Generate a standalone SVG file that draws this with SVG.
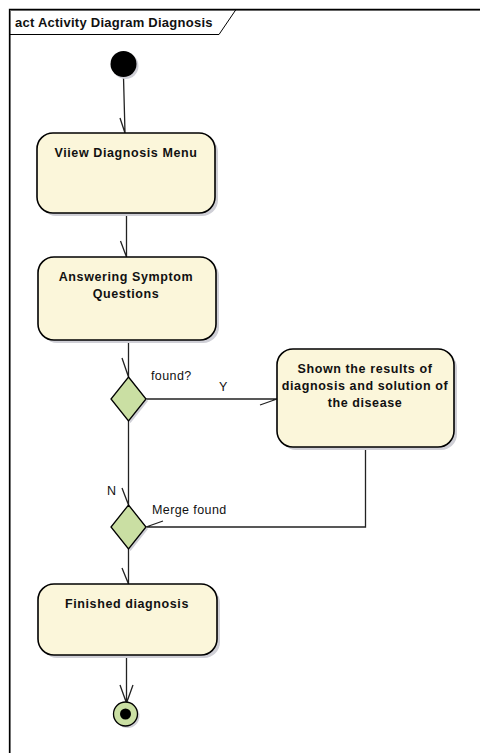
<svg xmlns="http://www.w3.org/2000/svg" width="480" height="753" viewBox="0 0 480 753">
<style>
.act{fill:#FBF6DA;stroke:#000;stroke-width:1.6}
.sh{fill:#CFCFD6}
.dec{fill:#CADFA3;stroke:#000;stroke-width:1.3}
.ln{fill:none;stroke:#222;stroke-width:1.3}
.t{font-family:"Liberation Sans",Arial,sans-serif;font-size:12.5px;letter-spacing:0.6px;font-weight:bold;fill:#111;text-anchor:middle}
.l{font-family:"Liberation Sans",Arial,sans-serif;font-size:12.5px;letter-spacing:0.4px;fill:#111}
</style>
<rect width="480" height="753" fill="#fff"/>
<g id="frame">
<path d="M9.5 753 V9.5 H480" fill="none" stroke="#888" stroke-width="1" transform="translate(1,1)"/>
<path d="M9.5 753 V9.5 H480" fill="none" stroke="#000" stroke-width="1.3"/>
<path d="M9.5 34.5 H219 L236 9.5" fill="none" stroke="#000" stroke-width="1"/>
<text x="15" y="27" class="t" style="text-anchor:start;font-size:13px;letter-spacing:0.25px">act Activity Diagram Diagnosis</text>
</g>
<g id="connectors">
<path class="ln" d="M123.5 77 L125 133 M120 118 L125 133"/>
<path class="ln" d="M126.5 213 V257 M120.5 241 L126.5 257"/>
<path class="ln" d="M128.5 340 V377 M122 358 L128.5 377"/>
<path class="ln" d="M146 399 H277 M260 405 L277 399"/>
<path class="ln" d="M365.5 447 V527 H146 M163 521 L146 527"/>
<path class="ln" d="M128.5 421 V505 M122 488 L128.5 505"/>
<path class="ln" d="M128.5 549 V584 M122 568 L128.5 584"/>
<path class="ln" d="M126.5 655 V703 M120 685 L126.5 703 L133 685"/>
<text x="151" y="380" class="l">found?</text>
<text x="219" y="391" class="l">Y</text>
<text x="107" y="495" class="l">N</text>
<text x="152" y="514" class="l">Merge found</text>
</g>
<g id="initial">
<circle cx="125.5" cy="66" r="13" fill="#CFCFD6"/>
<circle cx="123.5" cy="64" r="13" fill="#000"/>
</g>
<g id="viewMenu">
<rect x="40" y="136" width="178" height="80" rx="16" class="sh"/>
<rect x="37" y="133" width="178" height="80" rx="16" class="act"/>
<text x="126" y="157" class="t">Viiew Diagnosis Menu</text>
</g>
<g id="answering">
<rect x="41" y="260" width="178" height="83" rx="16" class="sh"/>
<rect x="38" y="257" width="178" height="83" rx="16" class="act"/>
<text x="126" y="281" class="t">Answering Symptom</text>
<text x="126" y="298" class="t">Questions</text>
</g>
<g id="foundDecision">
<path d="M130.5 379 L148 401 L130.5 423 L113 401 Z" class="sh"/>
<path d="M128.5 377 L146 399 L128.5 421 L111 399 Z" class="dec"/>
</g>
<g id="shownResults">
<rect x="280" y="352" width="177" height="98" rx="16" class="sh"/>
<rect x="277" y="349" width="177" height="98" rx="16" class="act"/>
<text x="365" y="373" class="t">Shown the results of</text>
<text x="365" y="390" class="t">diagnosis and solution of</text>
<text x="365" y="407" class="t">the disease</text>
</g>
<g id="mergeFound">
<path d="M130.5 507 L148 529 L130.5 551 L113 529 Z" class="sh"/>
<path d="M128.5 505 L146 527 L128.5 549 L111 527 Z" class="dec"/>
</g>
<g id="finished">
<rect x="41" y="587" width="179" height="71" rx="16" class="sh"/>
<rect x="38" y="584" width="179" height="71" rx="16" class="act"/>
<text x="127" y="608" class="t">Finished diagnosis</text>
</g>
<g id="final">
<circle cx="127.5" cy="716" r="12" fill="#CFCFD6"/>
<circle cx="125.5" cy="714" r="12" class="dec" stroke-width="1.6"/>
<circle cx="125.5" cy="714" r="5.5" fill="#000"/>
</g>
</svg>
